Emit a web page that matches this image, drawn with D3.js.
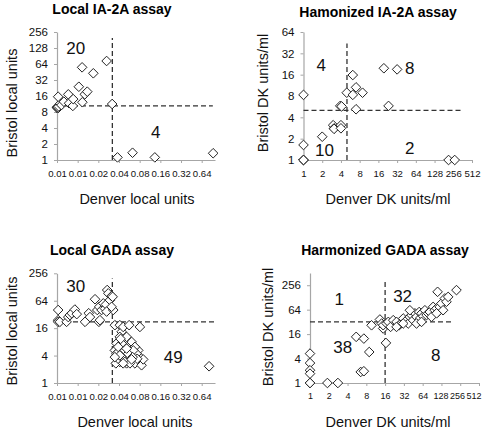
<!DOCTYPE html>
<html><head><meta charset="utf-8">
<script src="https://cdn.jsdelivr.net/npm/d3@7"></script>
<style>body{margin:0;background:#fff}svg{display:block}</style>
</head><body>
<svg id="c" width="482" height="432"></svg>
<script>
// ---------- DATA ----------
const titles = ["Local IA-2A assay", "Hamonized IA-2A assay", "Local GADA assay", "Harmonized GADA  assay"];
const xTitles = ["Denver local units", "Denver DK units/ml", "Denver local units", "Denver DK units/ml"];
const yTitles = ["Bristol local units", "Bristol DK units/ml", "Bristol local units", "Bristol DK units/ml"];

const localXTicks = [0.005, 0.01, 0.02, 0.04, 0.08, 0.16, 0.32, 0.64];
const localXLabels = ["0.01", "0.01", "0.02", "0.04", "0.08", "0.16", "0.32", "0.64"];
const dkXTicks = [1, 2, 4, 8, 16, 32, 64, 128, 256, 512];
const dkXLabels = ["1", "2", "4", "8", "16", "32", "64", "128", "256", "512"];
const p1YTicks = [1, 2, 4, 8, 16, 32, 64, 128, 256];
const p2YTicks = [1, 2, 4, 8, 16, 32, 64];
const p34YTicks = [1, 4, 16, 64, 256];

// Panel 1: Local IA-2A
const p1X = [0.005, 0.005, 0.0051, 0.0052, 0.0051, 0.0053, 0.0056, 0.0058, 0.0052, 0.0063, 0.0073, 0.0075, 0.0085, 0.0086, 0.0104, 0.0116, 0.0117, 0.0127, 0.0138, 0.0169, 0.0264, 0.0318, 0.038, 0.063, 0.133, 0.94];
const p1Y = [9.8, 9.6, 10, 9.5, 9.9, 10.2, 11.5, 10.8, 15.5, 12.5, 17.2, 11.7, 10.4, 14, 23.9, 55.4, 12.2, 17.2, 19.3, 42.8, 72.9, 11.3, 1.12, 1.37, 1.12, 1.34];
// Panel 2: Harmonized IA-2A
const p2X = [1, 1, 1, 1, 1, 2.0, 3.0, 3.1, 3.1, 4.0, 4.0, 3.9, 4.1, 4.96, 6.2, 6.2, 7.0, 7.0, 8.9, 19.6, 23.3, 32, 215, 270];
const p2Y = [8.3, 1.63, 1, 1, 1, 2.13, 3.1, 2.8, 2.75, 3.1, 2.8, 5.8, 5.7, 8.9, 15.8, 8.3, 10.6, 5.2, 8.9, 19.7, 5.8, 19.0, 1, 1];
// Panel 3: Local GADA
const p3X = [0.0052, 0.0052, 0.0052, 0.0055, 0.0069, 0.0073, 0.0077, 0.0082, 0.0091, 0.0097, 0.0128, 0.0145, 0.0151, 0.0179, 0.0193, 0.0204, 0.0211, 0.0206, 0.0223, 0.0236, 0.025, 0.0258, 0.0269, 0.0279, 0.0264, 0.0295, 0.0312, 0.0323, 0.033, 0.0312,
  0.0348, 0.0411, 0.0437, 0.046, 0.0411, 0.0368, 0.0348, 0.0389, 0.0422, 0.046, 0.0503, 0.0543, 0.0577, 0.061, 0.0645, 0.0682, 0.0516, 0.0411, 0.0368, 0.036, 0.0762, 0.0806, 0.0852, 0.09, 0.0562, 0.0806, 0.0389, 0.0437, 0.0486, 0.061, 0.0682, 0.0721, 0.046, 0.0516, 0.0486, 0.0577, 0.0645, 0.0368, 0.0543, 0.0411, 0.0736, 0.0632, 0.0437, 0.0389, 0.0348, 0.046, 0.0516, 0.061, 0.0422, 0.82];
const p3Y = [40, 24, 22, 22, 22, 28, 31, 34, 41, 32.5, 22, 34, 28, 69, 40, 22, 24, 47, 40, 56, 43, 53, 110, 93, 37, 66, 81, 78, 40, 47,
  18.6, 18.6, 13.3, 17, 10.3, 7.4, 5.2, 4.8, 6.2, 4.4, 3.7, 5.7, 7.4, 4.4, 3.4, 2.7, 2.7, 2.9, 3.7, 2.7, 5.2, 3.7, 2.45, 3.3, 18.6, 17, 3.4, 3.7, 5.2, 8, 6.2, 4.4, 8, 10.3, 2.9, 2.7, 5.2, 4.4, 4.4, 4.05, 3.4, 3.7, 7.4, 6.2, 3.7, 2.7, 5.7, 3.3, 9.3, 2.33];
// Panel 4: Harmonized GADA
const p4X = [1, 1, 1, 1, 1, 1, 1.9, 2.8, 5.5, 7.3, 8.9, 6.5, 7.3, 9.7, 13.2, 16.5, 14.9,
  14.1, 14.9, 16.9, 18, 19.6, 21.6, 24.4, 26.9, 29.4, 31.2, 35.3, 37.5, 39.9, 42.4, 45, 48.1, 51, 56.2, 57.7, 61.4, 65.2, 69.5, 73.9, 78.3, 83.3, 88.7, 94.2, 100, 107, 113, 120, 128, 136, 145, 154, 164, 111, 107, 223, 39.9, 31.2, 24.4, 51, 61.4];
const p4Y = [5.3, 3.1, 2.06, 1.7, 1, 1, 1, 1, 13.7, 12.4, 5.8, 1.87, 1.95, 26.4, 36.7, 9.7, 22,
  29.2, 26.5, 29.2, 32, 24.1, 35.3, 32, 26.5, 30.2, 38.8, 35.3, 29.2, 42.5, 47, 35.3, 52, 42.5, 56, 38.8, 52, 44, 62, 47, 52, 56, 42.5, 75, 62, 69, 56, 75, 91, 62, 121, 100, 132, 176, 52, 194, 62, 29.2, 24.1, 29.2, 32];

// Cut-off lines: [cutX, cutY, vertical top (y value), horizontal end (x value)]
const cutoffs = [[0.032, 10.4, 197, 0.93], [5, 5, 44, 344], [0.032, 22, 197, 1], [16, 32, 310, 197]];
// Quadrant counts: [label, x, y]
const counts = [
  [["20", 0.0094, 126], ["4", 0.137, 3.26]],
  [["4", 1.92, 21.4], ["8", 51, 19.7], ["10", 2.17, 1.35], ["2", 51, 1.46]],
  [["30", 0.0094, 133], ["49", 0.246, 3.54]],
  [["1", 2.95, 114], ["32", 30.5, 138], ["38", 3.34, 7.7], ["8", 104, 4.8]]
];

// ---------- LAYOUT ----------
const layout = [
  {xDomain: [0.005, 1], xRange: [57, 215], yDomain: [1, 256], yRange: [160, 32], title: [112, 14], xt: [137, 204], yt: [12, 103], xtSize: 9.6},
  {xDomain: [1, 512], xRange: [303.5, 472], yDomain: [1, 64], yRange: [160, 32], title: [378, 17], xt: [388, 204], yt: [263, 93], xtSize: 9.6},
  {xDomain: [0.005, 1], xRange: [57, 215], yDomain: [1, 256], yRange: [383, 273.3], title: [112, 255], xt: [135, 427], yt: [12, 331], xtSize: 9.6},
  {xDomain: [1, 512], xRange: [310, 479], yDomain: [1, 512], yRange: [383, 273], title: [385, 255], xt: [388, 427], yt: [268, 327], xtSize: 9}
];
const xs = [p1X, p2X, p3X, p4X], ys = [p1Y, p2Y, p3Y, p4Y];
const xTickSets = [[localXTicks, localXLabels], [dkXTicks, dkXLabels], [localXTicks, localXLabels], [dkXTicks, dkXLabels]];
const yTickSets = [p1YTicks, p2YTicks, p34YTicks, p34YTicks];

const FONT = "'Liberation Sans', Arial, Helvetica, sans-serif";
const svg = d3.select("#c").style("font-family", FONT);
const AXIS = "#a6a6a6";
const W = 482;

layout.forEach((L, i) => {
  const x = d3.scaleLog().base(2).domain(L.xDomain).range(L.xRange);
  const y = d3.scaleLog().base(2).domain(L.yDomain).range(L.yRange);
  const g = svg.append("g");

  const [xt, xl] = xTickSets[i];
  const xa = g.append("g").attr("transform", `translate(0,${L.yRange[0]})`)
    .call(d3.axisBottom(x).tickValues(xt).tickFormat((d, k) => xl[k]).tickSize(3).tickSizeOuter(0).tickPadding(7));
  const ya = g.append("g").attr("transform", `translate(${L.xRange[0]},0)`)
    .call(d3.axisLeft(y).tickValues(yTickSets[i]).tickFormat(d => String(d)).tickSize(3).tickSizeOuter(0).tickPadding(6));
  [xa, ya].forEach(a => {
    a.select(".domain").attr("stroke", AXIS).attr("stroke-width", 1.2);
    a.selectAll(".tick line").attr("stroke", AXIS);
    a.selectAll(".tick text").attr("fill", "#111").style("font-family", FONT);
  });
  xa.selectAll(".tick text").attr("font-size", L.xtSize);
  ya.selectAll(".tick text").attr("font-size", 11.5);
  // keep tick labels inside the picture, nudging neighbours left if needed
  const texts = xa.selectAll(".tick text").nodes();
  let maxRight = W - 0.5;
  for (let k = texts.length - 1; k >= 0; k--) {
    const b = texts[k].getBoundingClientRect();
    if (b.right > maxRight) {
      const s = maxRight - b.right;
      d3.select(texts[k]).attr("dx", s);
      maxRight = b.left + s - 1.5;
    } else break;
  }

  // cutoff dashed lines
  const [cx, cy, vTop, hEnd] = cutoffs[i];
  g.append("line").attr("x1", x(cx)).attr("x2", x(cx)).attr("y1", y(L.yDomain[0])).attr("y2", y(vTop))
    .attr("stroke", "#333").attr("stroke-width", 1.3).attr("stroke-dasharray", "5,3");
  g.append("line").attr("x1", x(L.xDomain[0])).attr("x2", x(hEnd)).attr("y1", y(cy)).attr("y2", y(cy))
    .attr("stroke", "#333").attr("stroke-width", 1.3).attr("stroke-dasharray", "5,3");

  // points
  const pts = xs[i].map((v, k) => [v, ys[i][k]]);
  const r = 4.8;
  g.append("g").selectAll("path").data(pts).join("path")
    .attr("d", `M0,${-r}L${r},0L0,${r}L${-r},0Z`)
    .attr("transform", d => `translate(${x(d[0])},${y(d[1])})`)
    .attr("fill", "#fff").attr("stroke", "#222").attr("stroke-width", 1);

  // counts
  g.append("g").selectAll("text").data(counts[i]).join("text")
    .attr("x", d => x(d[1])).attr("y", d => y(d[2]))
    .attr("text-anchor", "middle").attr("dominant-baseline", "central")
    .attr("font-size", 17).attr("fill", "#111").text(d => d[0]);

  // titles
  g.append("text").attr("x", L.title[0]).attr("y", L.title[1]).attr("text-anchor", "middle")
    .attr("font-size", 14).attr("font-weight", "bold").attr("fill", "#000").text(titles[i]);
  g.append("text").attr("x", L.xt[0]).attr("y", L.xt[1]).attr("text-anchor", "middle")
    .attr("font-size", 14.5).attr("fill", "#111").text(xTitles[i]);
  g.append("text").attr("transform", `translate(${L.yt[0]},${L.yt[1]}) rotate(-90)`).attr("text-anchor", "middle")
    .attr("dominant-baseline", "central")
    .attr("font-size", 14.5).attr("fill", "#111").text(yTitles[i]);
});
</script>
</body></html>
